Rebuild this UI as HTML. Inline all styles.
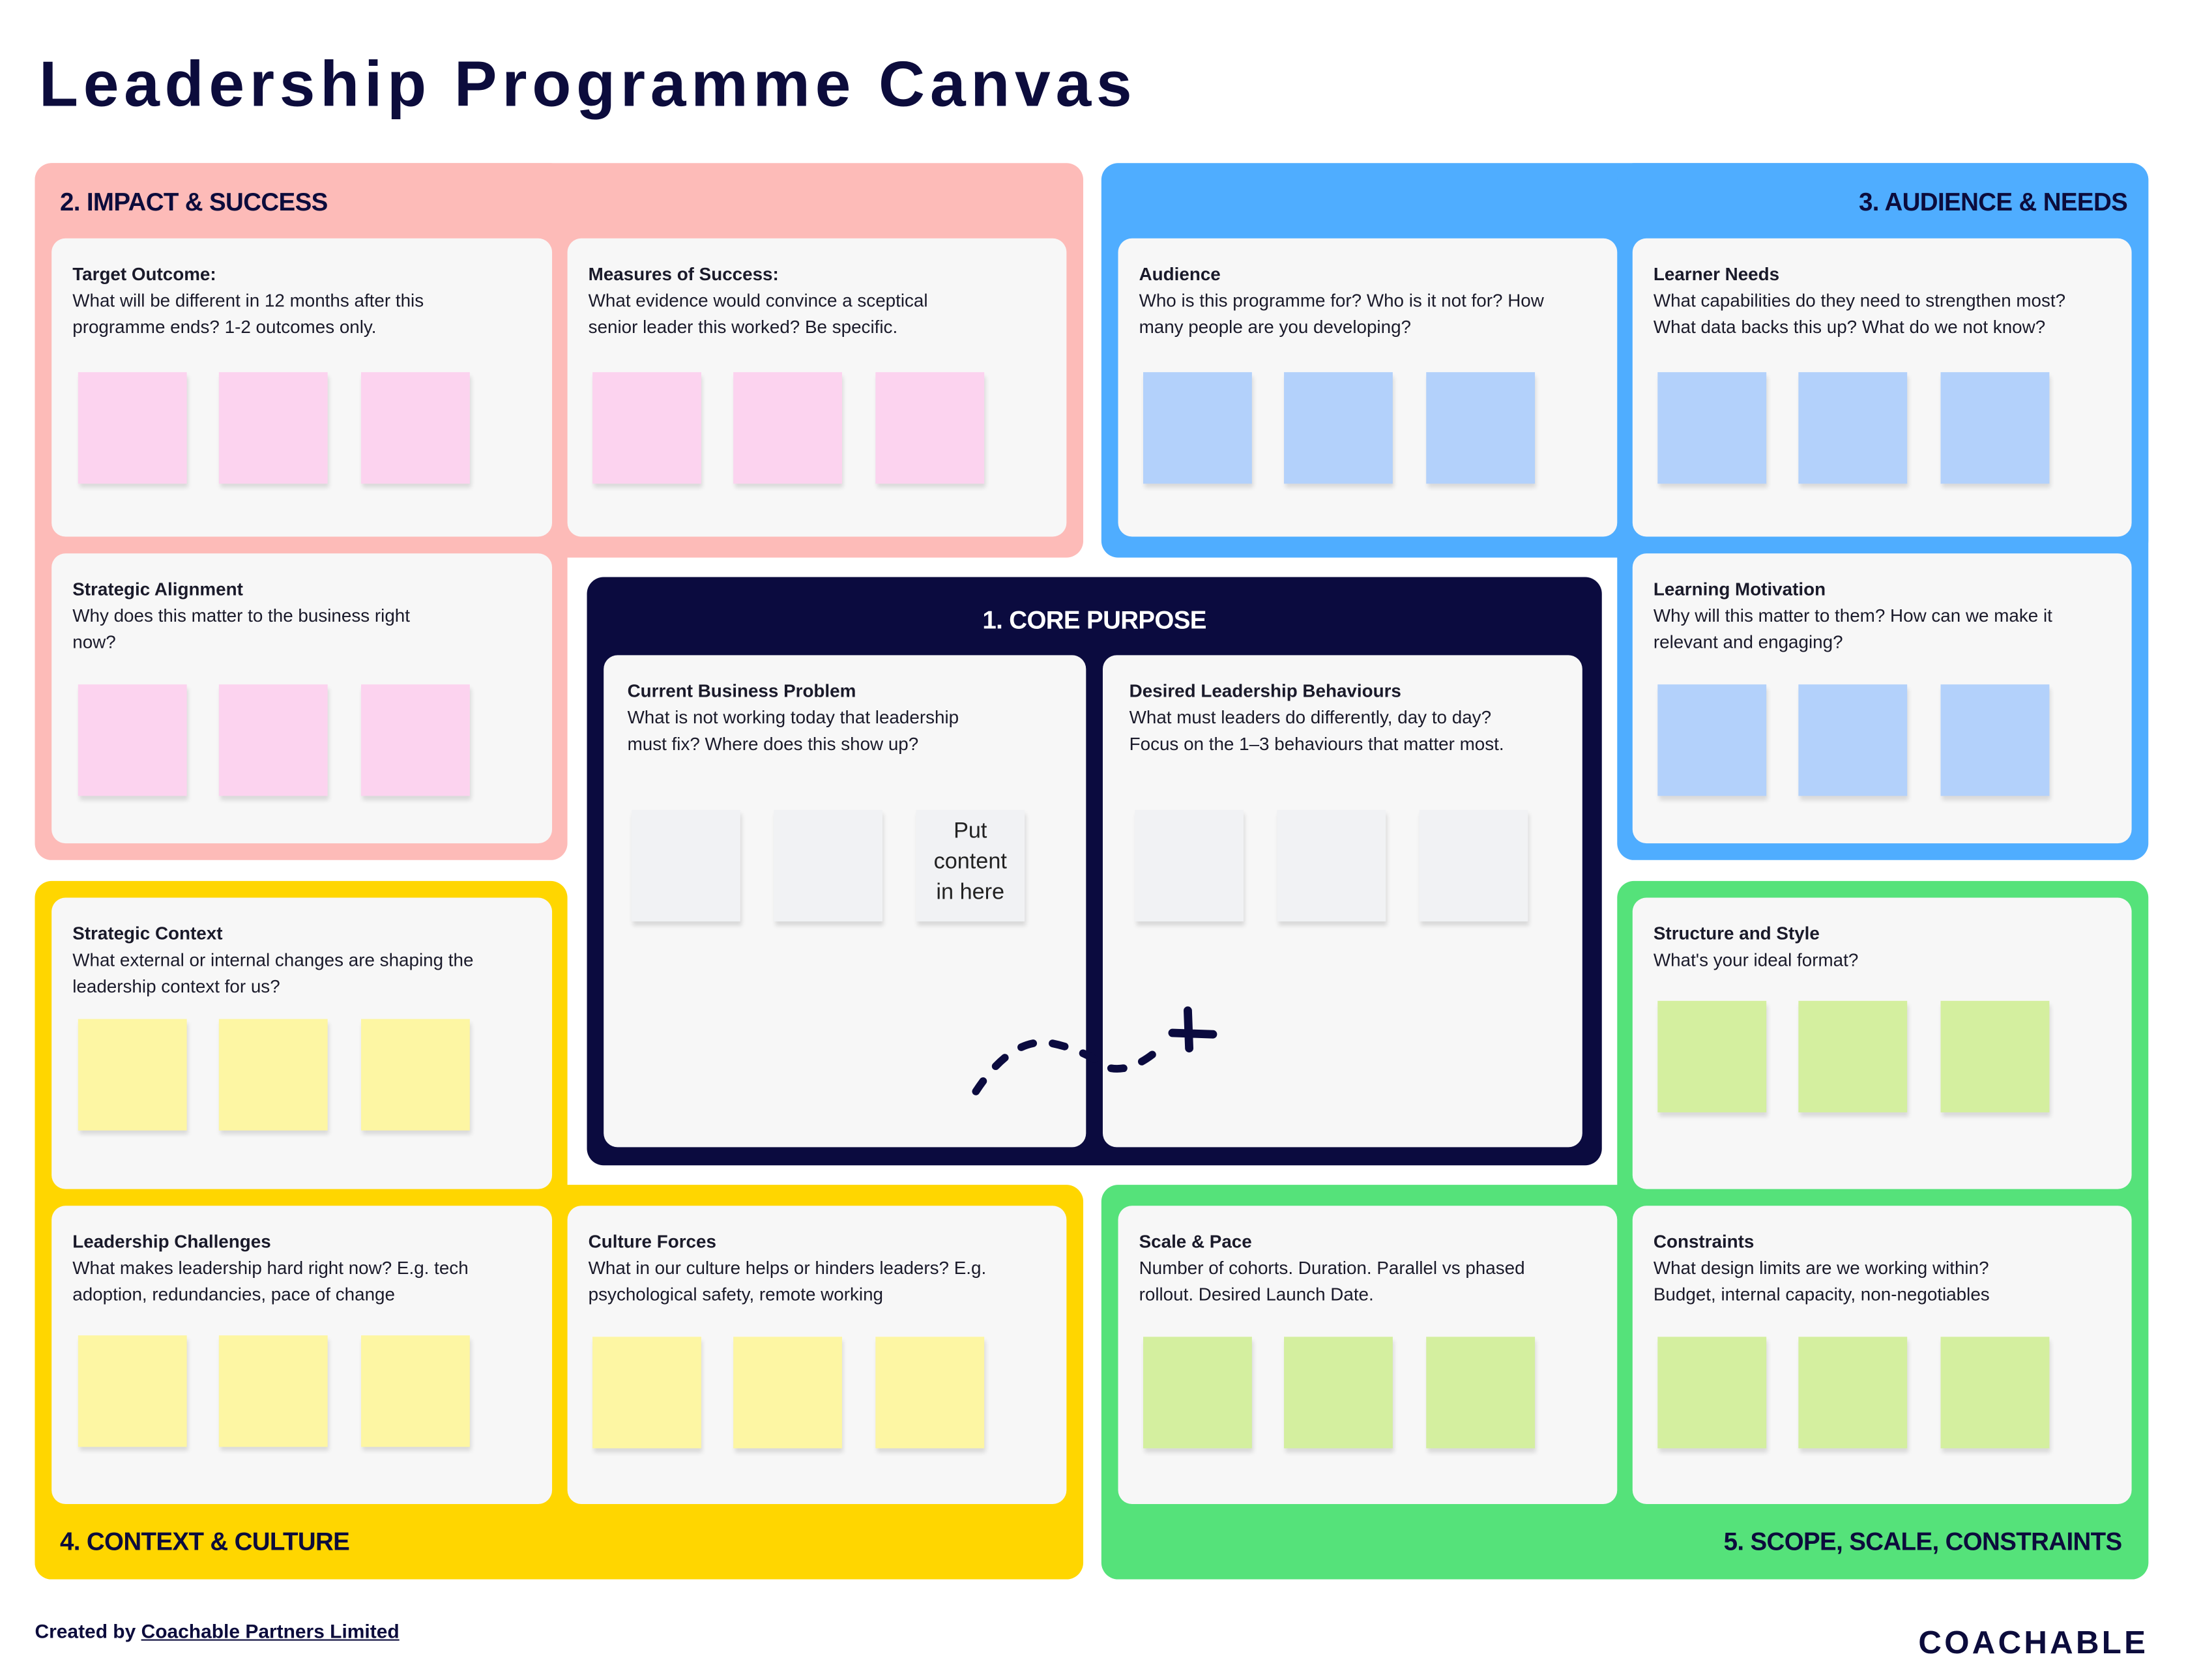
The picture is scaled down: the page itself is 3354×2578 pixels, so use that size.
<!DOCTYPE html>
<html><head><meta charset="utf-8"><style>
html,body{margin:0;padding:0;background:#fff;}
body{width:3354px;height:2578px;overflow:hidden;position:relative;}
#w{position:absolute;left:0;top:0;width:1568px;height:1205px;transform:scale(2.13903);transform-origin:0 0;font-family:"Liberation Sans",sans-serif;color:#0c0c3c;}
.a{position:absolute;}
.p{position:absolute;border-radius:12px;}
.c{position:absolute;background:#f7f7f7;border-radius:10px;}
.c .t{position:absolute;left:15px;top:16px;right:14px;font-size:13px;line-height:19px;color:#1a1a2a;}
.c .t b{display:block;}
.s{position:absolute;width:78px;height:80px;box-shadow:1px 3px 3px rgba(0,0,0,0.12);}
.h{position:absolute;font-weight:bold;font-size:18px;letter-spacing:-0.3px;color:#0c0c3c;}
</style></head><body><div id="w">
<div class="a" style="left:28px;top:33px;font-size:46px;font-weight:bold;letter-spacing:3.6px;color:#0c0c3c;">Leadership Programme Canvas</div>

<div class="p" style="left:25px;top:117px;width:752px;height:283px;background:#fdbbb8"></div>
<div class="p" style="left:25px;top:117px;width:382px;height:500px;background:#fdbbb8"></div>
<div class="p" style="left:790px;top:117px;width:751px;height:283px;background:#4fadff"></div>
<div class="p" style="left:1160px;top:117px;width:381px;height:500px;background:#4fadff"></div>
<div class="p" style="left:25px;top:632px;width:382px;height:501px;background:#ffd600"></div>
<div class="p" style="left:25px;top:850px;width:752px;height:283px;background:#ffd600"></div>
<div class="p" style="left:1160px;top:632px;width:381px;height:501px;background:#55e27a"></div>
<div class="p" style="left:790px;top:850px;width:751px;height:283px;background:#55e27a"></div>
<div class="p" style="left:421px;top:414px;width:728px;height:422px;background:#0b0b3f"></div>

<div class="h" style="left:43px;top:135px">2. IMPACT &amp; SUCCESS</div>
<div class="h" style="right:42px;top:135px">3. AUDIENCE &amp; NEEDS</div>
<div class="h" style="left:43px;top:1096px">4. CONTEXT &amp; CULTURE</div>
<div class="h" style="right:46px;top:1096px">5. SCOPE, SCALE, CONSTRAINTS</div>
<div class="h" style="left:421px;width:728px;text-align:center;top:435px;color:#fff">1. CORE PURPOSE</div>

<div class="c" style="left:37px;top:171px;width:359px;height:214px"><div class="t" style="right:50px"><b>Target Outcome:</b>What will be different in 12 months after this programme ends? 1-2 outcomes only.</div>
<div class="s" style="left:19px;top:96px;background:#fcd3ef"></div><div class="s" style="left:120px;top:96px;background:#fcd3ef"></div><div class="s" style="left:222px;top:96px;background:#fcd3ef"></div></div>
<div class="c" style="left:407px;top:171px;width:358px;height:214px"><div class="t" style="right:85px"><b>Measures of Success:</b>What evidence would convince a sceptical senior leader this worked? Be specific.</div>
<div class="s" style="left:18px;top:96px;background:#fcd3ef"></div><div class="s" style="left:119px;top:96px;background:#fcd3ef"></div><div class="s" style="left:221px;top:96px;background:#fcd3ef"></div></div>
<div class="c" style="left:37px;top:397px;width:359px;height:208px"><div class="t" style="right:75px"><b>Strategic Alignment</b>Why does this matter to the business right now?</div>
<div class="s" style="left:19px;top:94px;background:#fcd3ef"></div><div class="s" style="left:120px;top:94px;background:#fcd3ef"></div><div class="s" style="left:222px;top:94px;background:#fcd3ef"></div></div>

<div class="c" style="left:802px;top:171px;width:358px;height:214px"><div class="t" style="right:35px"><b>Audience</b>Who is this programme for? Who is it not for? How many people are you developing?</div>
<div class="s" style="left:18px;top:96px;background:#b3d1fb"></div><div class="s" style="left:119px;top:96px;background:#b3d1fb"></div><div class="s" style="left:221px;top:96px;background:#b3d1fb"></div></div>
<div class="c" style="left:1171px;top:171px;width:358px;height:214px"><div class="t" style="right:20px"><b>Learner Needs</b>What capabilities do they need to strengthen most? What data backs this up? What do we not know?</div>
<div class="s" style="left:18px;top:96px;background:#b3d1fb"></div><div class="s" style="left:119px;top:96px;background:#b3d1fb"></div><div class="s" style="left:221px;top:96px;background:#b3d1fb"></div></div>
<div class="c" style="left:1171px;top:397px;width:358px;height:208px"><div class="t"><b>Learning Motivation</b>Why will this matter to them? How can we make it relevant and engaging?</div>
<div class="s" style="left:18px;top:94px;background:#b3d1fb"></div><div class="s" style="left:119px;top:94px;background:#b3d1fb"></div><div class="s" style="left:221px;top:94px;background:#b3d1fb"></div></div>

<div class="c" style="left:37px;top:644px;width:359px;height:209px"><div class="t"><b>Strategic Context</b>What external or internal changes are shaping the leadership context for us?</div>
<div class="s" style="left:19px;top:87px;background:#fdf6a3"></div><div class="s" style="left:120px;top:87px;background:#fdf6a3"></div><div class="s" style="left:222px;top:87px;background:#fdf6a3"></div></div>
<div class="c" style="left:37px;top:865px;width:359px;height:214px"><div class="t"><b>Leadership Challenges</b>What makes leadership hard right now? E.g. tech adoption, redundancies, pace of change</div>
<div class="s" style="left:19px;top:93px;background:#fdf6a3"></div><div class="s" style="left:120px;top:93px;background:#fdf6a3"></div><div class="s" style="left:222px;top:93px;background:#fdf6a3"></div></div>
<div class="c" style="left:407px;top:865px;width:358px;height:214px"><div class="t"><b>Culture Forces</b>What in our culture helps or hinders leaders? E.g. psychological safety, remote working</div>
<div class="s" style="left:18px;top:94px;background:#fdf6a3"></div><div class="s" style="left:119px;top:94px;background:#fdf6a3"></div><div class="s" style="left:221px;top:94px;background:#fdf6a3"></div></div>

<div class="c" style="left:1171px;top:644px;width:358px;height:209px"><div class="t"><b>Structure and Style</b>What's your ideal format?</div>
<div class="s" style="left:18px;top:74px;background:#d4ef9f"></div><div class="s" style="left:119px;top:74px;background:#d4ef9f"></div><div class="s" style="left:221px;top:74px;background:#d4ef9f"></div></div>
<div class="c" style="left:802px;top:865px;width:358px;height:214px"><div class="t" style="right:30px"><b>Scale &amp; Pace</b>Number of cohorts. Duration. Parallel vs phased rollout. Desired Launch Date.</div>
<div class="s" style="left:18px;top:94px;background:#d4ef9f"></div><div class="s" style="left:119px;top:94px;background:#d4ef9f"></div><div class="s" style="left:221px;top:94px;background:#d4ef9f"></div></div>
<div class="c" style="left:1171px;top:865px;width:358px;height:214px"><div class="t" style="right:70px"><b>Constraints</b>What design limits are we working within? Budget, internal capacity, non-negotiables</div>
<div class="s" style="left:18px;top:94px;background:#d4ef9f"></div><div class="s" style="left:119px;top:94px;background:#d4ef9f"></div><div class="s" style="left:221px;top:94px;background:#d4ef9f"></div></div>

<div class="c" style="left:433px;top:470px;width:346px;height:353px"><div class="t" style="left:17px;right:80px"><b>Current Business Problem</b>What is not working today that leadership must fix? Where does this show up?</div>
<div class="s" style="left:20px;top:111px;background:#f1f2f4"></div><div class="s" style="left:122px;top:111px;background:#f1f2f4"></div><div class="s" style="left:224px;top:111px;background:#f1f2f4;font-size:16px;line-height:22px;text-align:center;color:#222;padding-top:5px;box-sizing:border-box">Put<br>content<br>in here</div></div>
<div class="c" style="left:791px;top:470px;width:344px;height:353px"><div class="t" style="left:19px;right:35px"><b>Desired Leadership Behaviours</b>What must leaders do differently, day to day? Focus on the 1–3 behaviours that matter most.</div>
<div class="s" style="left:23px;top:111px;background:#f1f2f4"></div><div class="s" style="left:125px;top:111px;background:#f1f2f4"></div><div class="s" style="left:227px;top:111px;background:#f1f2f4"></div></div>

<svg class="a" style="left:0;top:0" width="1568" height="1205">
<path d="M700 783 Q725 745 752 748 Q775 752 795 766 Q812 770 832 752" fill="none" stroke="#0b0b3f" stroke-width="5.5" stroke-linecap="round" stroke-dasharray="9 14"/>
<path d="M852 725 L853 752 M841 741 L870 742" stroke="#0b0b3f" stroke-width="6" stroke-linecap="round" fill="none"/>
</svg>

<div class="a" style="left:25px;top:1162px;font-size:14px;font-weight:bold;color:#0c0c3c">Created by <span style="text-decoration:underline">Coachable Partners Limited</span></div>
<div class="a" style="right:27px;top:1165px;font-size:23px;font-weight:900;letter-spacing:2px;color:#0c0c3c">COACHABLE</div>
</div></body></html>
